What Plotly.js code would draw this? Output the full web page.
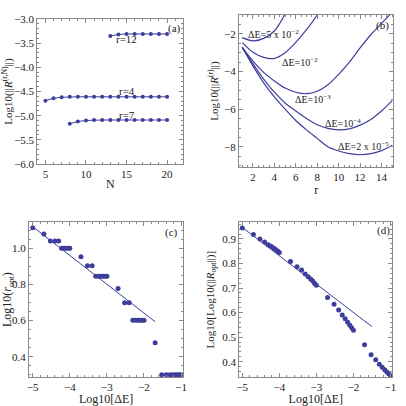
<!DOCTYPE html>
<html>
<head>
<meta charset="utf-8">
<script src="https://cdn.plot.ly/plotly-3.0.1.min.js"></script>
<style>html,body{margin:0;padding:0;background:#fff}#chart{width:406px;height:406px}</style>
</head>
<body>
<div id="chart"></div>
<script>
// ---------- Panel (a): Log10(||R^(r,N)||) vs N ----------
const N_r12 = [13, 14, 15, 16, 17, 18, 19, 20];
const logR_r12 = [-3.35, -3.32, -3.31, -3.31, -3.31, -3.31, -3.31, -3.31];
const N_r4 = [5, 6, 7, 8, 9, 10, 11, 12, 13, 14, 15, 16, 17, 18, 19, 20];
const logR_r4 = [-4.69, -4.64, -4.62, -4.61, -4.61, -4.61, -4.61, -4.61, -4.61, -4.61, -4.61, -4.61, -4.61, -4.61, -4.61, -4.61];
const N_r7 = [8, 9, 10, 11, 12, 13, 14, 15, 16, 17, 18, 19, 20];
const logR_r7 = [-5.17, -5.12, -5.10, -5.09, -5.09, -5.09, -5.09, -5.09, -5.09, -5.09, -5.09, -5.09, -5.09];

// ---------- Panel (b): Log10(||R^(r)||) vs r ----------
const r_vals = [1, 2, 3, 4, 5, 6, 7, 8, 9, 10, 11, 12, 13, 14, 15];
const logR_dE5e2 = [-2.2, -2.37, -2.24, -1.85, -0.95, 0.3];
const logR_dE1e2 = [-2.47, -2.98, -3.25, -3.3, -3.0, -2.45, -1.78, -1.0, 0.0];
const logR_dE1e3 = [-2.72, -3.45, -4.05, -4.5, -4.88, -5.1, -5.18, -5.05, -4.7, -4.15, -3.5, -2.75, -2.05, -1.45, -0.85];
const logR_dE1e4 = [-2.72, -3.6, -4.4, -5.1, -5.67, -6.1, -6.5, -6.83, -7.02, -7.1, -7.05, -6.85, -6.55, -6.1, -5.55];
const logR_dE2e5 = [-2.72, -3.7, -4.6, -5.35, -6.0, -6.6, -7.1, -7.55, -8.0, -8.22, -8.36, -8.42, -8.36, -8.2, -7.92];

// ---------- Panels (c) and (d): vs Log10[ΔE] ----------
const logDE = [-5, -4.699, -4.523, -4.398, -4.301, -4.222, -4.155, -4.097, -4.046, -4,
               -3.699, -3.523, -3.398, -3.301, -3.222, -3.155, -3.097, -3.046, -3,
               -2.699, -2.523, -2.398, -2.301, -2.222, -2.155, -2.097, -2.046, -2,
               -1.699, -1.523, -1.398, -1.301, -1.222, -1.155, -1.097, -1.046, -1];
const logRopt = [1.114, 1.079, 1.041, 1.041, 1.041, 1, 1, 1, 1, 1,
                 0.954, 0.903, 0.903, 0.845, 0.845, 0.845, 0.845, 0.845, 0.845,
                 0.778, 0.699, 0.699, 0.602, 0.602, 0.602, 0.602, 0.602, 0.602,
                 0.477, 0.301, 0.301, 0.301, 0.301, 0.301, 0.301, 0.301, 0.301];
const logLogRopt = [0.945, 0.918, 0.900, 0.888, 0.877, 0.870, 0.863, 0.857, 0.851, 0.845,
                    0.808, 0.787, 0.774, 0.757, 0.746, 0.737, 0.729, 0.719, 0.711,
                    0.662, 0.634, 0.611, 0.590, 0.575, 0.561, 0.549, 0.538, 0.528,
                    0.469, 0.428, 0.408, 0.390, 0.377, 0.367, 0.358, 0.351, 0.344];
const fitC_x = [-5, -1.7];
const fitC_y = [1.12, 0.594];
const fitD_x = [-5, -1.5];
const fitD_y = [0.947, 0.543];

const COL = '#3d3d9c';
const FONT = 'Liberation Serif, Times New Roman, serif';
const FRAME = '#8a8a8a';

function axisStyle(extra) {
  return Object.assign({
    showline: true, mirror: 'allticks', linecolor: FRAME, linewidth: 1,
    ticks: 'inside', ticklen: 4, tickcolor: FRAME, tickwidth: 1,
    showgrid: false, zeroline: false,
    tickfont: {family: FONT, size: 11, color: '#222'}
  }, extra);
}

const data = [
  {x: N_r12, y: logR_r12, xaxis: 'x', yaxis: 'y', mode: 'lines+markers', line: {color: COL, width: 1}, marker: {color: COL, size: 4}},
  {x: N_r4, y: logR_r4, xaxis: 'x', yaxis: 'y', mode: 'lines+markers', line: {color: COL, width: 1}, marker: {color: COL, size: 4}},
  {x: N_r7, y: logR_r7, xaxis: 'x', yaxis: 'y', mode: 'lines+markers', line: {color: COL, width: 1}, marker: {color: COL, size: 4}},

  {x: r_vals.slice(0, logR_dE5e2.length), y: logR_dE5e2, xaxis: 'x2', yaxis: 'y2', mode: 'lines', line: {color: COL, width: 1.2, shape: 'spline', smoothing: 0.8}},
  {x: r_vals.slice(0, logR_dE1e2.length), y: logR_dE1e2, xaxis: 'x2', yaxis: 'y2', mode: 'lines', line: {color: COL, width: 1.2, shape: 'spline', smoothing: 0.8}},
  {x: r_vals, y: logR_dE1e3, xaxis: 'x2', yaxis: 'y2', mode: 'lines', line: {color: COL, width: 1.2, shape: 'spline', smoothing: 0.8}},
  {x: r_vals, y: logR_dE1e4, xaxis: 'x2', yaxis: 'y2', mode: 'lines', line: {color: COL, width: 1.2, shape: 'spline', smoothing: 0.8}},
  {x: r_vals, y: logR_dE2e5, xaxis: 'x2', yaxis: 'y2', mode: 'lines', line: {color: COL, width: 1.2, shape: 'spline', smoothing: 0.8}},

  {x: logDE, y: logRopt, xaxis: 'x3', yaxis: 'y3', mode: 'markers', marker: {color: COL, size: 5}},
  {x: fitC_x, y: fitC_y, xaxis: 'x3', yaxis: 'y3', mode: 'lines', line: {color: COL, width: 1}},

  {x: logDE, y: logLogRopt, xaxis: 'x4', yaxis: 'y4', mode: 'markers', marker: {color: COL, size: 5}},
  {x: fitD_x, y: fitD_y, xaxis: 'x4', yaxis: 'y4', mode: 'lines', line: {color: COL, width: 1}}
];

function ann(xref, yref, x, y, text, size) {
  return {xref: xref, yref: yref, x: x, y: y, text: text, showarrow: false,
          font: {family: FONT, size: size || 11, color: '#222'}, xanchor: 'center', yanchor: 'middle'};
}
function tfont(s) { return {family: FONT, size: s, color: '#222'}; }

const layout = {
  width: 406, height: 406,
  margin: {l: 0, r: 0, t: 0, b: 0},
  paper_bgcolor: '#fff', plot_bgcolor: '#fff',
  showlegend: false,
  font: {family: FONT},
  xaxis: axisStyle({domain: [0.0919, 0.4515], anchor: 'y', range: [4, 22], dtick: 5, tick0: 0,
    minor: {ticks: 'inside', ticklen: 2, tickcolor: FRAME, dtick: 1},
    title: {text: 'N', standoff: 0, font: tfont(12)}}),
  yaxis: axisStyle({domain: [0.5961, 0.9532], anchor: 'x', range: [-6, -3], dtick: 0.5, tick0: 0, tickformat: '.1f',
    minor: {ticks: 'inside', ticklen: 2, tickcolor: FRAME, dtick: 0.1},
    title: {text: 'Log10(||<i>R</i><sup>(r,N)</sup>||)', standoff: 0, font: tfont(11)}}),

  xaxis2: axisStyle({domain: [0.5887, 0.9687], anchor: 'y2', range: [0.7, 15.1], dtick: 2, tick0: 0,
    minor: {ticks: 'inside', ticklen: 2, tickcolor: FRAME, dtick: 0.5},
    title: {text: 'r', standoff: 0, font: tfont(12)}}),
  yaxis2: axisStyle({domain: [0.5887, 0.9631], anchor: 'x2', range: [-9.07, -1], dtick: 2, tick0: 0,
    minor: {ticks: 'inside', ticklen: 2, tickcolor: FRAME, dtick: 0.5},
    title: {text: 'Log10(||<i>R</i><sup>(r)</sup>||)', standoff: 3, font: tfont(11)}}),

  xaxis3: axisStyle({domain: [0.0714, 0.4515], anchor: 'y3', range: [-5.1, -0.94], dtick: 1, tick0: 0,
    minor: {ticks: 'inside', ticklen: 2, tickcolor: FRAME, dtick: 0.2},
    title: {text: 'Log10[ΔE]', standoff: 0, font: tfont(12)}}),
  yaxis3: axisStyle({domain: [0.0714, 0.4525], anchor: 'x3', range: [0.288, 1.144], dtick: 0.2, tick0: 0, tickformat: '.1f',
    minor: {ticks: 'inside', ticklen: 2, tickcolor: FRAME, dtick: 0.05},
    title: {text: 'Log10(<i>r</i><sub>opt</sub>)', standoff: 1, font: tfont(12)}}),

  xaxis4: axisStyle({domain: [0.5894, 0.9663], anchor: 'y4', range: [-5.08, -0.95], dtick: 1, tick0: 0,
    minor: {ticks: 'inside', ticklen: 2, tickcolor: FRAME, dtick: 0.2},
    title: {text: 'Log10[ΔE]', standoff: 0, font: tfont(12)}}),
  yaxis4: axisStyle({domain: [0.0714, 0.4525], anchor: 'x4', range: [0.3376, 0.968], dtick: 0.1, tick0: 0, tickformat: '.1f',
    minor: {ticks: 'inside', ticklen: 2, tickcolor: FRAME, dtick: 0.02},
    title: {text: 'Log10[Log10(||<i>R</i><sub>opt</sub>||)]', standoff: 5, font: tfont(11)}}),

  annotations: [
    ann('x', 'y', 20.9, -3.19, '(a)'),
    ann('x', 'y', 15.0, -3.42, 'r=12'),
    ann('x', 'y', 15.0, -4.50, 'r=4'),
    ann('x', 'y', 15.0, -4.98, 'r=7'),

    ann('x2', 'y2', 14.1, -1.55, '(b)'),
    ann('x2', 'y2', 3.9, -2.0, 'ΔE=5 x 10<sup>−2</sup>', 10),
    ann('x2', 'y2', 6.4, -3.5, 'ΔE=10<sup>−2</sup>', 10),
    ann('x2', 'y2', 7.6, -5.45, 'ΔE=10<sup>−3</sup>', 10),
    ann('x2', 'y2', 10.4, -6.72, 'ΔE=10<sup>−4</sup>', 10),
    ann('x2', 'y2', 12.3, -7.93, 'ΔE=2 x 10<sup>−5</sup>', 10),

    ann('x3', 'y3', -1.25, 1.09, '(c)'),
    ann('x4', 'y4', -1.2, 0.935, '(d)')
  ]
};

Plotly.newPlot('chart', data, layout, {staticPlot: true, displayModeBar: false});
</script>
</body>
</html>
